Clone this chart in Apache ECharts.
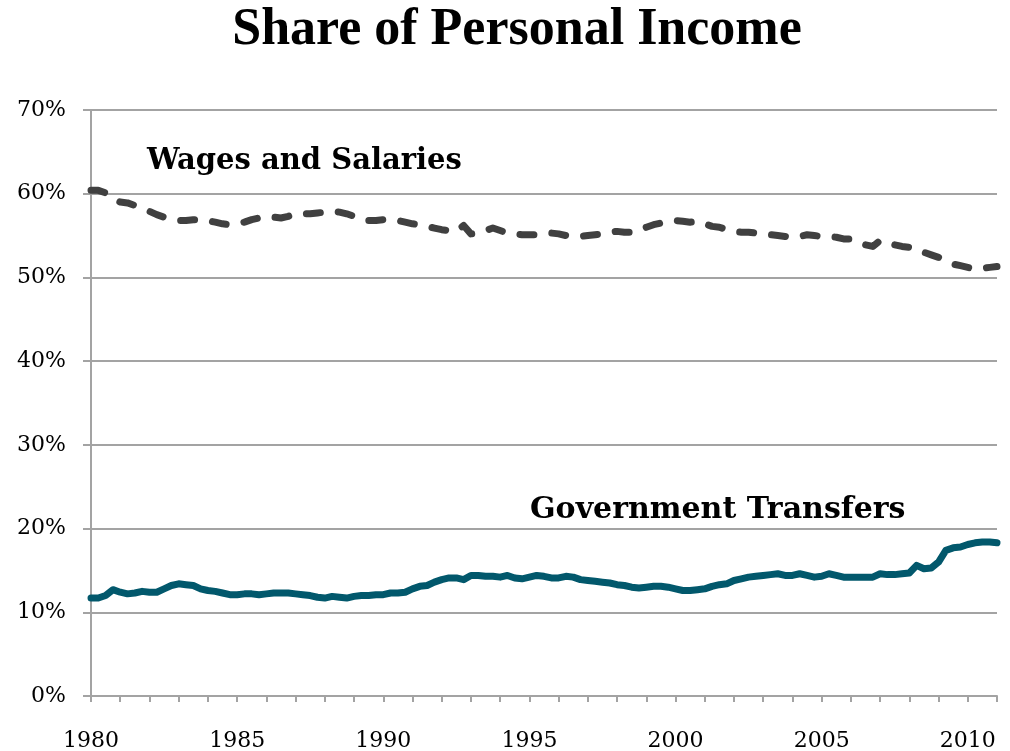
<!DOCTYPE html>
<html>
<head>
<meta charset="utf-8">
<title>Share of Personal Income</title>
<script src="https://cdn.jsdelivr.net/npm/echarts@6/dist/echarts.min.js"></script>
<style>
  html, body { margin: 0; padding: 0; background: #fff; }
  #chart { width: 1010px; height: 751px; }
</style>
</head>
<body>
<div id="chart"></div>
<script>
// quarterly, 1980 Q1 .. 2011 Q1
const startYear = 1980
const quarterCount = 125
const labelYears = ['1980', '1985', '1990', '1995', '2000', '2005', '2010']

const wages = [
  60.4, 60.4, 60.1, 59.4, 59.0, 58.9, 58.6, 58.3, 57.9, 57.5,
  57.2, 57.0, 56.8, 56.8, 56.9, 56.9, 56.8, 56.6, 56.4, 56.3,
  56.4, 56.6, 56.9, 57.1, 57.3, 57.2, 57.1, 57.3, 57.6, 57.6,
  57.6, 57.7, 57.8, 57.9, 57.8, 57.6, 57.3, 56.9, 56.8, 56.8,
  56.9, 56.9, 56.8, 56.6, 56.4, 56.3, 56.1, 55.9, 55.7, 55.6,
  55.5, 56.2, 55.2, 55.3, 55.6, 55.9, 55.6, 55.3, 55.2, 55.1,
  55.1, 55.1, 55.2, 55.3, 55.2, 55.0, 54.9, 54.9, 55.0, 55.1,
  55.2, 55.4, 55.5, 55.4, 55.4, 55.6, 56.0, 56.3, 56.5, 56.6,
  56.8, 56.7, 56.6, 56.7, 56.4, 56.1, 56.0, 55.7, 55.5, 55.4,
  55.4, 55.3, 55.2, 55.1, 55.0, 54.9, 54.8, 54.9, 55.1, 55.0,
  54.9, 54.9, 54.8, 54.6, 54.6, 54.3, 53.9, 53.7, 54.4, 54.2,
  53.9, 53.7, 53.6, 53.5, 53.0, 52.7, 52.4, 52.0, 51.6, 51.4,
  51.2, 51.0, 51.1, 51.2, 51.3
]

const transfers = [
  11.7, 11.7, 12.0, 12.7, 12.4, 12.2, 12.3, 12.5, 12.4, 12.4,
  12.8, 13.2, 13.4, 13.3, 13.2, 12.8, 12.6, 12.5, 12.3, 12.1,
  12.1, 12.2, 12.2, 12.1, 12.2, 12.3, 12.3, 12.3, 12.2, 12.1,
  12.0, 11.8, 11.7, 11.9, 11.8, 11.7, 11.9, 12.0, 12.0, 12.1,
  12.1, 12.3, 12.3, 12.4, 12.8, 13.1, 13.2, 13.6, 13.9, 14.1,
  14.1, 13.9, 14.4, 14.4, 14.3, 14.3, 14.2, 14.4, 14.1, 14.0,
  14.2, 14.4, 14.3, 14.1, 14.1, 14.3, 14.2, 13.9, 13.8, 13.7,
  13.6, 13.5, 13.3, 13.2, 13.0, 12.9, 13.0, 13.1, 13.1, 13.0,
  12.8, 12.6, 12.6, 12.7, 12.8, 13.1, 13.3, 13.4, 13.8, 14.0,
  14.2, 14.3, 14.4, 14.5, 14.6, 14.4, 14.4, 14.6, 14.4, 14.2,
  14.3, 14.6, 14.4, 14.2, 14.2, 14.2, 14.2, 14.2, 14.6, 14.5,
  14.5, 14.6, 14.7, 15.6, 15.2, 15.3, 16.0, 17.4, 17.7, 17.8,
  18.1, 18.3, 18.4, 18.4, 18.3
]

const quarters = []
for (let i = 0; i < quarterCount; i++) {
  quarters.push(String(startYear + Math.floor(i / 4)) + ' Q' + ((i % 4) + 1))
}

const serif = 'DejaVu Serif'
const gridGray = '#a3a3a3'

const chart = echarts.init(document.getElementById('chart'))
chart.setOption({
  animation: false,
  backgroundColor: '#ffffff',
  grid: { left: 91, right: 13, top: 110, bottom: 55, containLabel: false, outerBoundsMode: 'none' },
  graphic: [
    {
      type: 'text', x: 517, y: 31,
      style: {
        text: 'Share of Personal Income', fontFamily: 'Liberation Serif', fontWeight: 'bold',
        fontSize: 52, fill: '#000', textAlign: 'center', textVerticalAlign: 'middle'
      }
    },
    {
      type: 'text', left: 147, top: 147,
      style: { text: 'Wages and Salaries', fontFamily: serif, fontWeight: 'bold', fontSize: 29, fill: '#000' }
    },
    {
      type: 'text', left: 530, top: 495,
      style: { text: 'Government Transfers', fontFamily: serif, fontWeight: 'bold', fontSize: 30, fill: '#000' }
    }
  ],
  xAxis: {
    type: 'category',
    data: quarters,
    boundaryGap: false,
    axisLine: { lineStyle: { color: gridGray, width: 2 } },
    axisTick: {
      interval: (idx) => idx % 4 === 0,
      length: 6,
      lineStyle: { color: gridGray, width: 2 }
    },
    axisLabel: {
      interval: (idx) => idx % 20 === 0,
      formatter: (v) => v.slice(0, 4),
      margin: 34,
      fontFamily: serif,
      fontSize: 22,
      color: '#000'
    },
    splitLine: { show: false }
  },
  yAxis: {
    type: 'value',
    min: 0,
    max: 70,
    interval: 10,
    axisLine: { show: true, lineStyle: { color: gridGray, width: 2 } },
    axisTick: { show: true, length: 8, lineStyle: { color: gridGray, width: 2 } },
    axisLabel: {
      formatter: '{value}%',
      margin: 25,
      fontFamily: serif,
      fontSize: 22,
      color: '#000'
    },
    splitLine: { lineStyle: { color: gridGray, width: 2 } }
  },
  series: [
    {
      name: 'Wages and Salaries',
      type: 'line',
      data: wages,
      showSymbol: false,
      smooth: false,
      lineStyle: { color: '#404040', width: 7, type: [14, 18], cap: 'round', join: 'round' }
    },
    {
      name: 'Government Transfers',
      type: 'line',
      data: transfers,
      showSymbol: false,
      smooth: false,
      lineStyle: { color: '#02586c', width: 7, cap: 'round', join: 'round' }
    }
  ]
})
</script>
</body>
</html>
